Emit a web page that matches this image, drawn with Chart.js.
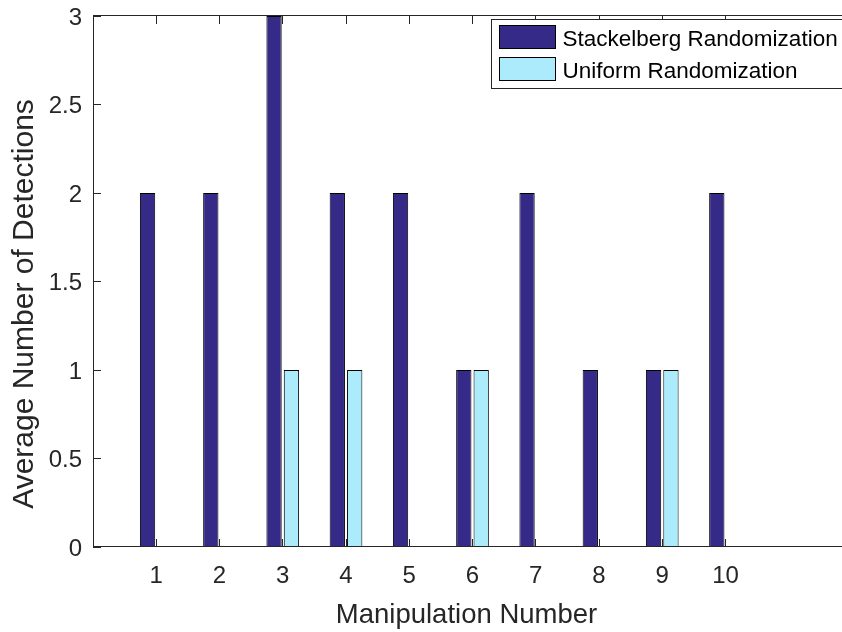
<!DOCTYPE html>
<html>
<head>
<meta charset="utf-8">
<script src="https://cdn.jsdelivr.net/npm/chart.js@4.4.1/dist/chart.umd.min.js"></script>
<style>
  html, body { margin: 0; padding: 0; background: #fff; overflow: hidden; }
  #wrap { width: 860px; height: 632px; }
</style>
</head>
<body>
<div id="wrap"><canvas id="chart" width="860" height="632"></canvas></div>
<script>
// --- data ---
var manipulations = [1, 2, 3, 4, 5, 6, 7, 8, 9, 10];
var stackelberg = [2, 2, 3, 2, 2, 1, 2, 1, 1, 2];
var uniform = [0, 0, 1, 1, 0, 1, 0, 0, 1, 0];
var yTicks = [0, 0.5, 1, 1.5, 2, 2.5, 3];
var seriesNames = ['Stackelberg Randomization', 'Uniform Randomization'];
var xTitle = 'Manipulation Number';
var yTitle = 'Average Number of Detections';

var AXIS = '#262626';
var FONT = '"Liberation Sans", Arial, Helvetica, sans-serif';
var colors = ['#352A87', '#ABEBFC'];

function toPoints(vals) {
    return vals.map(function(v, i) { return { x: manipulations[i], y: v }; });
}

// MATLAB-ish axes: box, inward ticks, titles and legend drawn by hand
var matlabAxes = {
    id: 'matlabAxes',
    beforeDatasetsDraw: function(chart) {
        var ctx = chart.ctx, a = chart.chartArea, xs = chart.scales.x, ys = chart.scales.y;
        ctx.save();
        ctx.strokeStyle = AXIS; ctx.lineWidth = 1;
        ctx.beginPath();
        manipulations.forEach(function(m) {
            var px = Math.floor(xs.getPixelForValue(m)) + 0.5;
            ctx.moveTo(px, a.bottom); ctx.lineTo(px, a.bottom - 8);
            ctx.moveTo(px, a.top); ctx.lineTo(px, a.top + 8);
        });
        yTicks.forEach(function(t) {
            var py = Math.floor(ys.getPixelForValue(t)) + 0.5;
            ctx.moveTo(a.left, py); ctx.lineTo(a.left + 8, py);
            ctx.moveTo(a.right, py); ctx.lineTo(a.right - 8, py);
        });
        ctx.stroke();
        ctx.restore();
    },
    afterDatasetsDraw: function(chart) {
        var ctx = chart.ctx, a = chart.chartArea;
        ctx.save();
        ctx.strokeStyle = AXIS; ctx.lineWidth = 1;
        ctx.strokeRect(a.left + 0.5, a.top - 0.5, a.right - a.left, a.bottom - a.top);
        ctx.restore();
    },
    afterDraw: function(chart) {
        var ctx = chart.ctx;
        ctx.save();
        ctx.fillStyle = AXIS;
        ctx.textBaseline = 'alphabetic';
        ctx.textAlign = 'center';
        ctx.font = '27.5px ' + FONT;
        ctx.fillText(xTitle, 466.5, 622.5);

        ctx.save();
        ctx.translate(33, 304);
        ctx.rotate(-Math.PI / 2);
        ctx.font = '30px ' + FONT;
        ctx.fillText(yTitle, 0, 0);
        ctx.restore();

        // legend box
        ctx.fillStyle = '#fff';
        ctx.fillRect(491.5, 19.5, 357, 69);
        ctx.strokeStyle = AXIS;
        ctx.strokeRect(491.5, 19.5, 357, 69);
        ctx.font = '22.5px ' + FONT;
        ctx.textAlign = 'left';
        chart.data.datasets.forEach(function(ds, i) {
            var top = 25.5 + i * 32;
            ctx.fillStyle = ds.backgroundColor;
            ctx.fillRect(499.5, top, 56, 23);
            ctx.strokeStyle = '#000';
            ctx.strokeRect(499.5, top, 56, 23);
            ctx.fillStyle = '#000';
            ctx.fillText(ds.label, 562.5, top + 20.3);
        });
        ctx.restore();
    }
};

function noPad(s) { s.paddingTop = 0; s.paddingBottom = 0; s.paddingLeft = 0; s.paddingRight = 0; }

var chart = new Chart(document.getElementById('chart'), {
    type: 'bar',
    data: {
        datasets: [
            { label: seriesNames[0], data: toPoints(stackelberg), backgroundColor: colors[0], borderColor: '#000', borderWidth: 1 },
            { label: seriesNames[1], data: toPoints(uniform), backgroundColor: colors[1], borderColor: '#000', borderWidth: 1 }
        ]
    },
    options: {
        responsive: false,
        animation: false,
        devicePixelRatio: 1,
        categoryPercentage: 0.55,
        barPercentage: 0.88,
        layout: { padding: { left: 0, right: 8, top: 16, bottom: 0 } },
        plugins: { legend: { display: false }, tooltip: { enabled: false } },
        scales: {
            x: {
                type: 'linear', min: 0, max: 12, offset: false,
                grid: { display: false, drawTicks: false },
                border: { display: false },
                afterFit: function(s) { s.height = 85; noPad(s); },
                ticks: {
                    stepSize: 1, padding: 15, color: AXIS, maxRotation: 0,
                    font: { family: FONT, size: 24 },
                    callback: function(v) { return manipulations.indexOf(v) >= 0 ? String(v) : null; }
                }
            },
            y: {
                min: 0, max: 3,
                grid: { display: false, drawTicks: false },
                border: { display: false },
                afterFit: function(s) { s.width = 93; noPad(s); },
                ticks: {
                    stepSize: 0.5, padding: 11, color: AXIS, labelOffset: 2,
                    font: { family: FONT, size: 24 },
                    callback: function(v) { return yTicks.indexOf(v) >= 0 ? String(v) : null; }
                }
            }
        }
    },
    plugins: [matlabAxes]
});
</script>
</body>
</html>
